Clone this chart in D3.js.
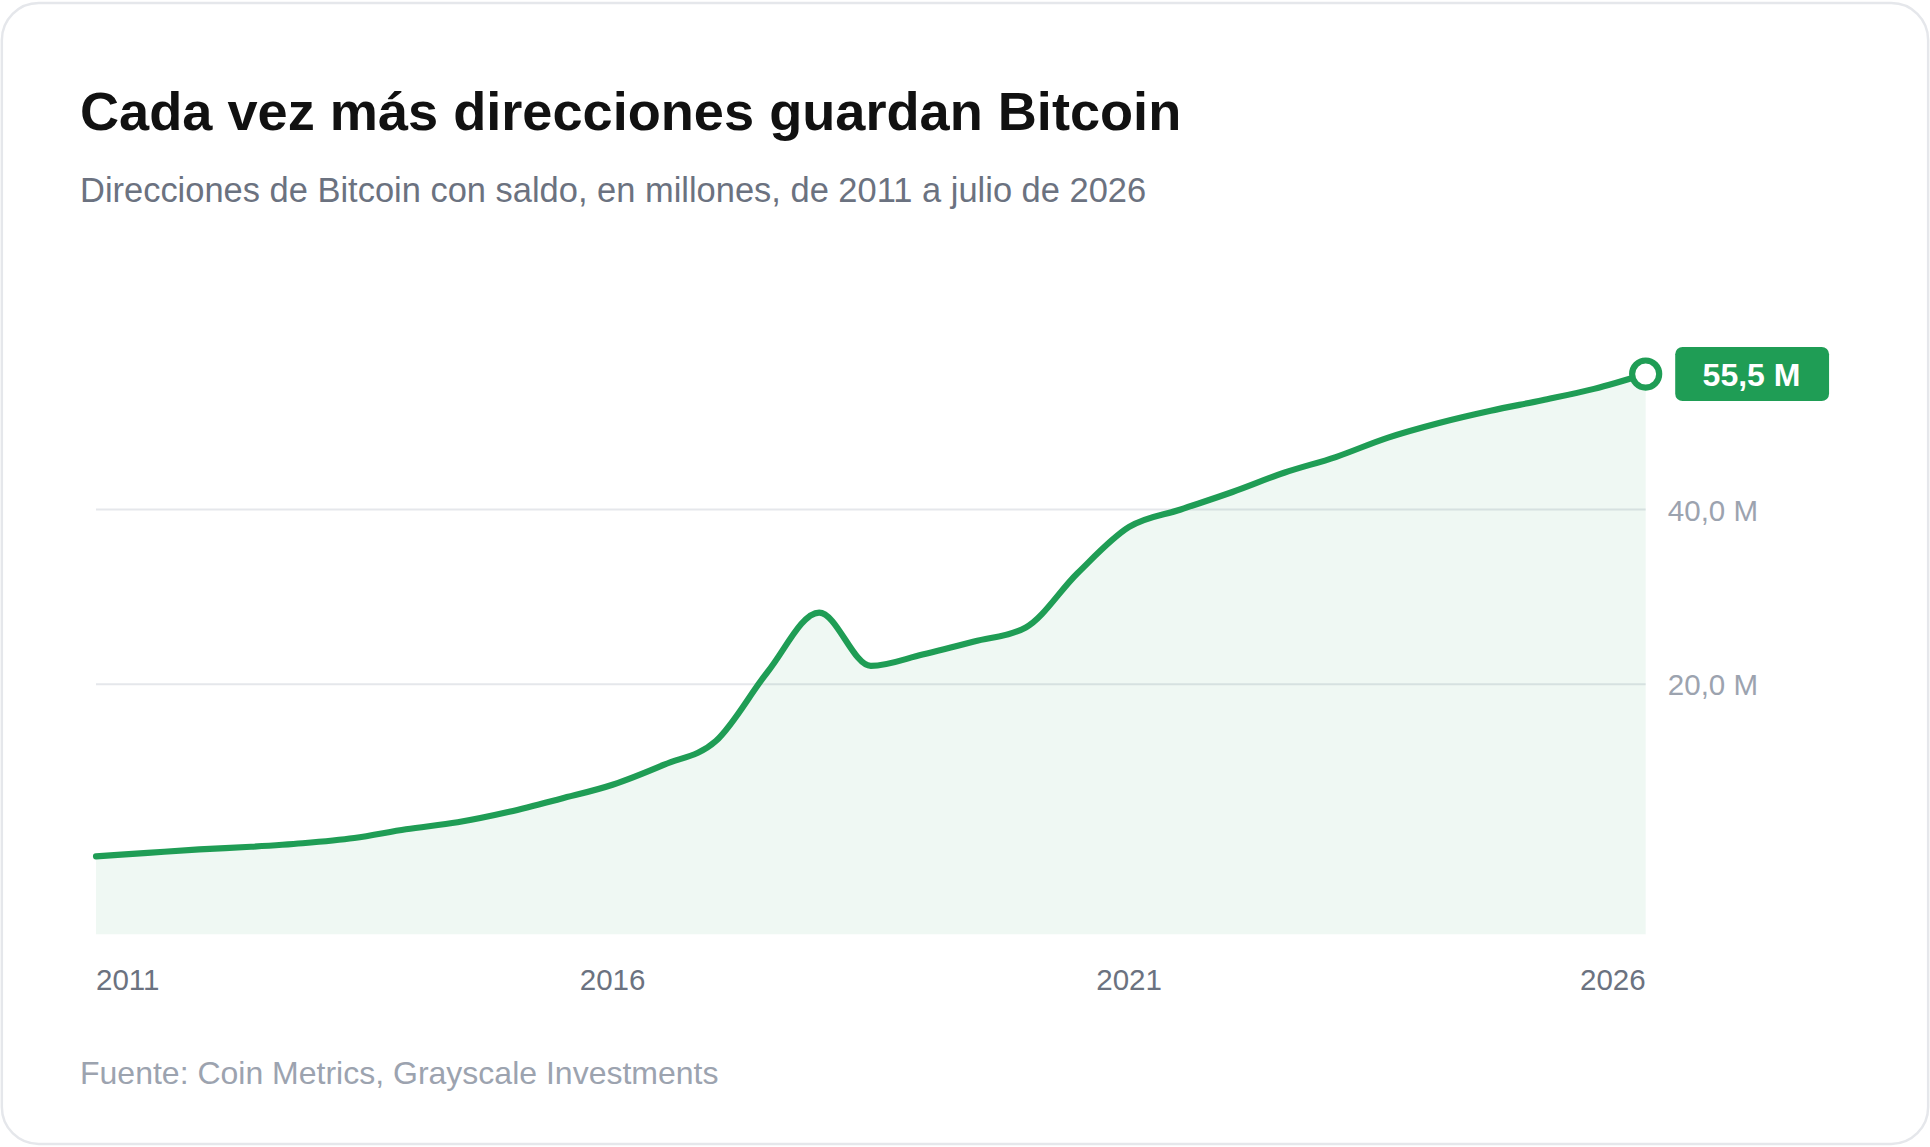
<!DOCTYPE html>
<html>
<head>
<meta charset="utf-8">
<style>
  body { margin: 0; background: #fff; font-family: 'Liberation Sans', Arial, sans-serif; }
  svg { display: block; }
</style>
</head>
<body>
<svg id="chart" width="1930" height="1147" viewBox="0 0 1568 930"></svg>
<script src="https://d3js.org/d3.v7.min.js"></script>
<script>
// half-year steps, 2011.0 .. 2026.0, millions of addresses
const years = d3.range(31).map(i => 2011 + i * 0.5);
const values = [0.3, 0.7, 1.1, 1.4, 1.8, 2.4, 3.4, 4.2, 5.4, 6.9, 8.5, 10.8, 13.5, 21.4, 28.2,
                22.1, 23.4, 24.9, 26.5, 32.7, 38.0, 40.0, 42.0, 44.2, 46.0, 48.2, 49.9, 51.3, 52.5, 53.8, 55.5];
const xTicks = [2011, 2016, 2021, 2026];
const yTicks = [20, 40];

const data = years.map((y, i) => ({ year: y, value: values[i] }));
const green = "#1f9d55";

const svg = d3.select("#chart");

svg.append("rect")
  .attr("x", 1.5).attr("y", 1.5).attr("width", 1565).attr("height", 927)
  .attr("rx", 30).attr("fill", "#fff").attr("stroke", "#e5e7eb").attr("stroke-width", 2);

svg.append("text").attr("x", 65).attr("y", 105)
  .attr("font-size", 44).attr("font-weight", "bold").attr("fill", "#111")
  .text("Cada vez más direcciones guardan Bitcoin");
svg.append("text").attr("x", 65).attr("y", 163)
  .attr("font-size", 28).attr("fill", "#6b7280")
  .text("Direcciones de Bitcoin con saldo, en millones, de 2011 a julio de 2026");

const x = d3.scaleLinear().domain([2011, 2026]).range([78, 1337]);
const y = d3.scaleLinear().domain([-8.6, 60]).range([758, 271]);

// grid
svg.append("g").selectAll("line").data(yTicks).join("line")
  .attr("x1", 78).attr("x2", 1337)
  .attr("y1", d => y(d)).attr("y2", d => y(d))
  .attr("stroke", "#e5e7eb").attr("stroke-width", 1.5);

svg.append("g").selectAll("text").data(yTicks).join("text")
  .attr("x", 1355).attr("y", d => y(d) + 9)
  .attr("font-size", 24).attr("fill", "#9ca3af")
  .text(d => d3.format(".1f")(d).replace(".", ",") + " M");

const curve = d3.curveMonotoneX;
svg.append("path").datum(data)
  .attr("fill", green).attr("fill-opacity", 0.07)
  .attr("d", d3.area().x(d => x(d.year)).y0(y(-8.6)).y1(d => y(d.value)).curve(curve));

svg.append("path").datum(data)
  .attr("fill", "none").attr("stroke", green).attr("stroke-width", 5)
  .attr("stroke-linejoin", "round").attr("stroke-linecap", "round")
  .attr("d", d3.line().x(d => x(d.year)).y(d => y(d.value)).curve(curve));

svg.append("g").selectAll("text").data(xTicks).join("text")
  .attr("x", d => x(d)).attr("y", 803)
  .attr("text-anchor", (d, i) => i === 0 ? "start" : i === xTicks.length - 1 ? "end" : "middle")
  .attr("font-size", 24).attr("fill", "#6b7280")
  .text(d => d);

const last = data[data.length - 1];
svg.append("circle").attr("cx", x(last.year)).attr("cy", y(last.value)).attr("r", 11)
  .attr("fill", "#fff").attr("stroke", green).attr("stroke-width", 5);
svg.append("rect").attr("x", 1361).attr("y", y(last.value) - 22).attr("width", 125).attr("height", 44)
  .attr("rx", 6).attr("fill", green);
svg.append("text").attr("x", 1423).attr("y", y(last.value) + 10)
  .attr("text-anchor", "middle").attr("font-size", 26).attr("font-weight", "bold").attr("fill", "#fff")
  .text(d3.format(".1f")(last.value).replace(".", ",") + " M");

svg.append("text").attr("x", 65).attr("y", 880)
  .attr("font-size", 26).attr("fill", "#9ca3af")
  .text("Fuente: Coin Metrics, Grayscale Investments");
</script>
</body>
</html>
